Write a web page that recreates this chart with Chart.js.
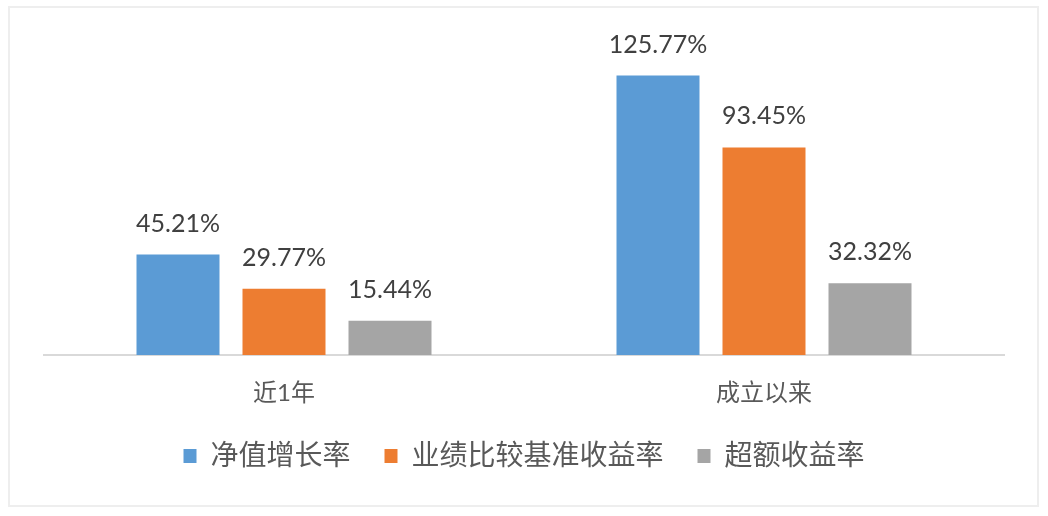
<!DOCTYPE html>
<html>
<head>
<meta charset="utf-8">
<script src="https://cdn.jsdelivr.net/npm/chart.js@4"></script>
<style>
    html, body { margin: 0; padding: 0; background: #fff; }
    #wrap { position: relative; width: 1048px; height: 516px; }
    #frame {
        position: absolute; left: 8px; top: 6px; width: 1027px; height: 497px;
        border: 2px solid #eeeeee; pointer-events: none;
    }
</style>
</head>
<body>
<div id="wrap">
    <canvas id="returnChart" width="1048" height="516"></canvas>
    <div id="frame"></div>
</div>
<script>
const categories = ['近1年', '成立以来'];
const seriesNames = ['净值增长率', '业绩比较基准收益率', '超额收益率'];
const navGrowth = [45.21, 125.77];
const benchmarkReturn = [29.77, 93.45];
const excessReturn = [15.44, 32.32];

const COLORS = {
    blue: '#5b9bd5',
    orange: '#ed7d31',
    gray: '#a5a5a5'
};

const FONT = "Lato, 'Noto Sans CJK SC', sans-serif";

// draws the value above each bar, like the office chart does
const valueLabels = {
    id: 'valueLabels',
    afterDatasetsDraw(chart) {
        const ctx = chart.ctx;
        ctx.save();
        ctx.font = '25px ' + FONT;
        ctx.fillStyle = '#404040';
        ctx.textAlign = 'center';
        ctx.textBaseline = 'alphabetic';
        chart.data.datasets.forEach((ds, i) => {
            const meta = chart.getDatasetMeta(i);
            meta.data.forEach((bar, j) => {
                ctx.fillText(ds.data[j].toFixed(2) + '%', bar.x, bar.y - 23);
            });
        });
        ctx.restore();
    }
};

const ctx = document.getElementById('returnChart').getContext('2d');

new Chart(ctx, {
    type: 'bar',
    data: {
        labels: categories,
        datasets: [
            { label: seriesNames[0], data: navGrowth, backgroundColor: COLORS.blue },
            { label: seriesNames[1], data: benchmarkReturn, backgroundColor: COLORS.orange },
            { label: seriesNames[2], data: excessReturn, backgroundColor: COLORS.gray }
        ]
    },
    options: {
        responsive: false,
        animation: false,
        categoryPercentage: 0.6625,
        barPercentage: 0.783,
        layout: {
            padding: { left: 44, right: 44, top: 44, bottom: 36 }
        },
        scales: {
            y: {
                display: false,
                min: 0,
                max: 140
            },
            x: {
                grid: { display: false, drawTicks: false },
                border: { display: true, color: '#d9d9d9', width: 2 },
                ticks: {
                    color: '#595959',
                    font: { size: 24, family: FONT },
                    padding: 24
                },
                afterFit(scale) {
                    scale.height = 53;
                }
            }
        },
        plugins: {
            legend: {
                position: 'bottom',
                labels: {
                    color: '#595959',
                    font: { size: 28, family: FONT },
                    boxWidth: 13,
                    boxHeight: 14,
                    padding: 34
                }
            },
            tooltip: { enabled: false }
        }
    },
    plugins: [valueLabels]
});
</script>
</body>
</html>
